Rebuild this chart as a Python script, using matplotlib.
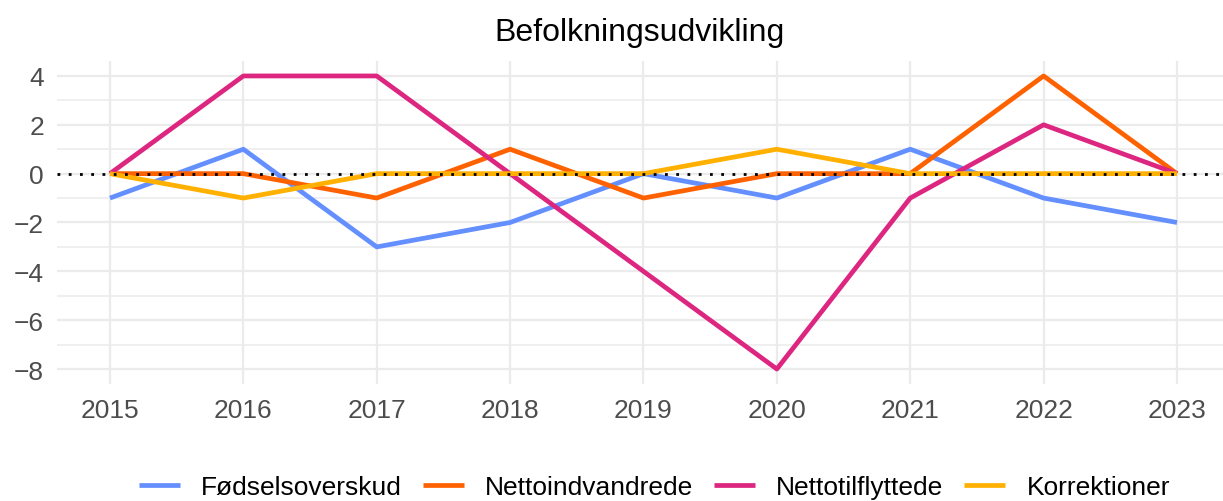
import matplotlib.pyplot as plt
import numpy as np

# Data
aar = [2015, 2016, 2017, 2018, 2019, 2020, 2021, 2022, 2023]
foedselsoverskud = [-1, 1, -3, -2, 0, -1, 1, -1, -2]
nettoindvandrede = [0, 0, -1, 1, -1, 0, 0, 4, 0]
nettotilflyttede = [0, 4, 4, 0, -4, -8, -1, 2, 0]
korrektioner = [0, -1, 0, 0, 0, 1, 0, 0, 0]

serier = ['Fødselsoverskud', 'Nettoindvandrede', 'Nettotilflyttede', 'Korrektioner']
farver = ['#648FFF', '#FE6100', '#DC267F', '#FFB000']
vaerdier = [foedselsoverskud, nettoindvandrede, nettotilflyttede, korrektioner]

plt.rcParams['font.family'] = ['Liberation Sans', 'DejaVu Sans']

fig = plt.figure(figsize=(12.23, 5.02), dpi=100)
ax = fig.add_axes([0.0463, 0.2337, 0.9537, 0.6422])

for navn, farve, v in zip(serier, farver, vaerdier):
    ax.plot(aar, v, color=farve, lw=3.4, label=navn, solid_capstyle='butt', zorder=3)

ax.axhline(0, color='black', lw=2, dashes=(1, 3.05), dash_capstyle='butt', zorder=4)

ax.set_xlim(2014.6, 2023.345)
ax.set_ylim(-8.6, 4.6)
ax.set_xticks(aar)
ax.set_yticks([-8, -6, -4, -2, 0, 2, 4])
ax.set_yticklabels(['\u22128', '\u22126', '\u22124', '\u22122', '0', '2', '4'])
ax.set_yticks(np.arange(-7, 4, 2), minor=True)

ax.grid(True, which='major', color='#EBEBEB', lw=1.6, zorder=0)
ax.grid(True, which='minor', axis='y', color='#EBEBEB', lw=1.1, zorder=0)
ax.tick_params(which='both', length=0, labelsize=19, labelcolor='#4D4D4D')
ax.tick_params(axis='x', pad=10)
ax.tick_params(axis='y', pad=9)
for s in ax.spines.values():
    s.set_visible(False)

ax.set_title('Befolkningsudvikling', fontsize=23, pad=15)

fig.legend(loc='center', bbox_to_anchor=(0.535, 0.028), ncol=4, frameon=False,
           fontsize=19, handlelength=1.55, handletextpad=0.8, columnspacing=0.8)

fig.savefig('out.png', dpi=100)
